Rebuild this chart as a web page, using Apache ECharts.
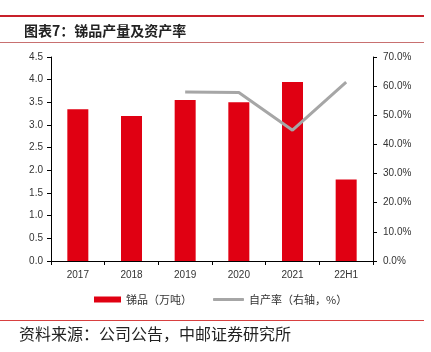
<!DOCTYPE html>
<html>
<head>
<meta charset="utf-8">
<script src="https://cdn.jsdelivr.net/npm/echarts@6/dist/echarts.min.js"></script>
<style>
  html, body { margin: 0; padding: 0; background: #fff; }
  #chart { width: 431px; height: 352px; }
</style>
</head>
<body>
<div id="chart"></div>
<script>
  // data
  const years = ['2017', '2018', '2019', '2020', '2021', '22H1'];
  const output = [3.35, 3.2, 3.55, 3.5, 3.95, 1.8];          // 万吨
  const selfRate = [null, null, 58.0, 57.8, 44.9, 61.4];     // %

  const cjk = '"Noto Sans CJK SC", sans-serif';
  const latin = '"Liberation Sans", Arial, sans-serif';
  const labelColor = '#333';

  const chart = echarts.init(document.getElementById('chart'));

  chart.setOption({
    animation: false,
    title: {
      text: '图表7：锑品产量及资产率',
      left: 19,
      top: 19,
      textStyle: {
        fontFamily: cjk,
        fontSize: 14,
        fontWeight: 'bold',
        color: '#222'
      }
    },
    graphic: [
      {type: 'rect', shape: {x: 0, y: 15, width: 424, height: 2}, style: {fill: '#c8202a'}},
      {type: 'rect', shape: {x: 0, y: 42, width: 424, height: 1}, style: {fill: '#c87070'}},
      {type: 'rect', shape: {x: 0, y: 320, width: 424, height: 1}, style: {fill: '#d84040'}},
      {
        type: 'text',
        left: 19,
        top: 326,
        style: {
          text: '资料来源：公司公告，中邮证券研究所',
          font: '16px ' + cjk,
          fill: '#222'
        }
      }
    ],
    grid: {
      left: 51,
      right: 58,
      top: 57,
      bottom: 91
    },
    legend: [
      {
        left: 94,
        top: 294,
        padding: 0,
        itemWidth: 27,
        itemHeight: 6,
        itemGap: 4,
        textStyle: {fontFamily: cjk, fontSize: 11, color: labelColor},
        data: [{name: '锑品（万吨）', icon: 'rect'}]
      },
      {
        left: 213,
        top: 294,
        padding: 0,
        itemWidth: 31,
        itemHeight: 3,
        textStyle: {fontFamily: cjk, fontSize: 11, color: labelColor},
        data: [{name: '自产率（右轴，%）', icon: 'roundRect'}]
      }
    ],
    xAxis: {
      type: 'category',
      data: years,
      axisLine: {lineStyle: {color: '#000', width: 1}},
      axisTick: {show: true, inside: false, length: 4, lineStyle: {color: '#000'}},
      axisLabel: {
        fontFamily: latin,
        fontSize: 10,
        color: labelColor,
        margin: 9
      }
    },
    yAxis: [
      {
        type: 'value',
        min: 0,
        max: 4.5,
        interval: 0.5,
        splitLine: {show: false},
        axisLine: {show: true, lineStyle: {color: '#000'}},
        axisTick: {show: true, length: 4, lineStyle: {color: '#000'}},
        axisLabel: {
          fontFamily: latin,
          fontSize: 10,
          color: labelColor,
          formatter: v => v.toFixed(1)
        }
      },
      {
        type: 'value',
        min: 0,
        max: 70,
        interval: 10,
        position: 'right',
        splitLine: {show: false},
        axisLine: {show: true, lineStyle: {color: '#000'}},
        axisTick: {show: true, length: 4, lineStyle: {color: '#000'}},
        axisLabel: {
          fontFamily: latin,
          fontSize: 10,
          color: labelColor,
          margin: 10,
          formatter: v => v.toFixed(1) + '%'
        }
      }
    ],
    series: [
      {
        name: '锑品（万吨）',
        type: 'bar',
        barWidth: 21,
        yAxisIndex: 0,
        itemStyle: {color: '#e00012'},
        data: output
      },
      {
        name: '自产率（右轴，%）',
        type: 'line',
        yAxisIndex: 1,
        showSymbol: false,
        symbol: 'none',
        lineStyle: {color: '#a6a6a6', width: 3},
        itemStyle: {color: '#a6a6a6'},
        data: selfRate
      }
    ]
  });
</script>
</body>
</html>
